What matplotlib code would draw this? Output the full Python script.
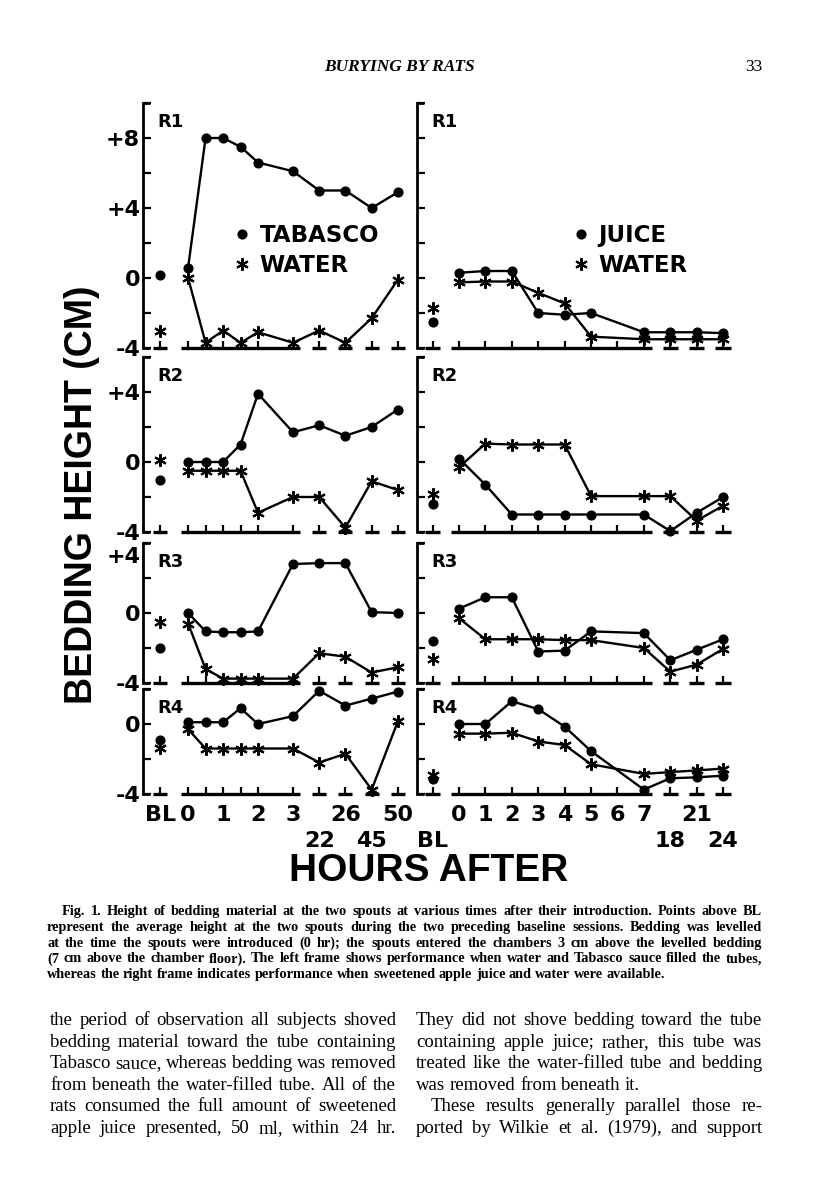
import numpy as np
import matplotlib
matplotlib.use("Agg")
import matplotlib.pyplot as plt
import matplotlib.transforms as mtransforms
from matplotlib.lines import Line2D

W, H = 816, 1200

# x categories (hours after introduction); BL = baseline sessions
left_hours = ["BL", "0", "0.5", "1", "1.5", "2", "3", "22", "26", "45", "50"]
left_pos = [-0.8, 0, 0.5, 1, 1.5, 2, 3, 3.75, 4.5, 5.25, 6.0]
left_ticklabels = ["BL", "0", "", "1", "", "2", "3", "22", "26", "45", "50"]
left_rows = [1, 1, 1, 1, 1, 1, 1, 2, 1, 2, 1]
left_groups = [[0], [1, 2, 3, 4, 5, 6], [7], [8], [9], [10]]

right_hours = ["BL", "0", "1", "2", "3", "4", "5", "6", "7", "18", "21", "24"]
right_pos = [-1, 0, 1, 2, 3, 4, 5, 6, 7, 8, 9, 10]
right_ticklabels = ["BL", "0", "1", "2", "3", "4", "5", "6", "7", "18", "21", "24"]
right_rows = [2, 1, 1, 1, 1, 1, 1, 1, 1, 2, 1, 2]
right_groups = [[0], [1, 2, 3, 4, 5, 6, 7, 8], [9], [10], [11]]

nan = np.nan
# bedding height (cm), first value = BL
tabasco_r1 = [0.2, 0.6, 8.0, 8.0, 7.5, 6.6, 6.1, 5.0, 5.0, 4.0, 4.9]
water_l_r1 = [-3.0, 0.0, -3.7, -3.0, -3.7, -3.1, -3.7, -3.0, -3.7, -2.3, -0.1]
tabasco_r2 = [-1.0, 0.0, 0.0, 0.0, 1.0, 3.9, 1.7, 2.1, 1.5, 2.0, 3.0]
water_l_r2 = [0.1, -0.5, -0.5, -0.5, -0.5, -2.9, -2.0, -2.0, -3.75, -1.1, -1.6]
tabasco_r3 = [-2.0, 0.0, -1.05, -1.1, -1.1, -1.05, 2.8, 2.85, 2.85, 0.05, 0.0]
water_l_r3 = [-0.5, -0.6, -3.2, -3.75, -3.75, -3.75, -3.75, -2.3, -2.5, -3.4, -3.1]
tabasco_r4 = [-0.9, 0.1, 0.1, 0.1, 0.9, 0.0, 0.45, 1.9, 1.05, 1.45, 1.85]
water_l_r4 = [-1.35, -0.3, -1.4, -1.4, -1.4, -1.4, -1.4, -2.2, -1.7, -3.75, 0.15]

juice_r1 = [-2.5, 0.3, 0.4, 0.4, -2.0, -2.1, -2.0, nan, -3.1, -3.1, -3.1, -3.15]
water_r_r1 = [-1.7, -0.25, -0.2, -0.2, -0.85, -1.45, -3.35, nan, -3.5, -3.5, -3.5, -3.5]
juice_r2 = [-2.4, 0.2, -1.3, -3.0, -3.0, -3.0, -3.0, nan, -3.0, -3.95, -2.9, -2.0]
water_r_r2 = [-1.85, -0.3, 1.05, 1.0, 1.0, 1.0, -1.95, nan, -1.95, -1.95, -3.35, -2.5]
juice_r3 = [-1.6, 0.25, 0.9, 0.9, -2.2, -2.15, -1.05, nan, -1.15, -2.7, -2.1, -1.5]
water_r_r3 = [-2.6, -0.3, -1.5, -1.5, -1.5, -1.55, -1.55, nan, -2.0, -3.35, -2.95, -2.05]
juice_r4 = [-3.15, 0.0, 0.0, 1.3, 0.85, -0.15, -1.55, nan, -3.75, -3.1, -3.05, -2.95]
water_r_r4 = [-2.9, -0.55, -0.55, -0.5, -1.0, -1.2, -2.3, nan, -2.85, -2.75, -2.65, -2.55]

rats = ["R1", "R2", "R3", "R4"]
ytops = [10, 6, 4, 2]
ylabels = [{8: "+8", 4: "+4", 0: "0", -4: "-4"},
           {4: "+4", 0: "0", -4: "-4"},
           {4: "+4", 0: "0", -4: "-4"},
           {0: "0", -4: "-4"}]
left_series = [(tabasco_r1, water_l_r1), (tabasco_r2, water_l_r2),
               (tabasco_r3, water_l_r3), (tabasco_r4, water_l_r4)]
right_series = [(juice_r1, water_r_r1), (juice_r2, water_r_r2),
                (juice_r3, water_r_r3), (juice_r4, water_r_r4)]

plt.rcParams["font.family"] = ["DejaVu Sans"]
plt.rcParams["font.weight"] = "bold"

DOT = dict(marker="o", ms=6.3, mfc="k", mec="k", color="k")
STAR = dict(marker=(6, 2, 0), ms=9, mew=1.5, color="k")
TICK_FS = 16

fig = plt.figure(figsize=(W / 100, H / 100), dpi=100)

rows_px = [(103, 348), (357, 532), (543, 683), (689, 794)]
left_px = (143, 408)
right_px = (417, 735)


def panel(xpx, ypx, pos, ticklabels, trows, groups, xlim, half, ytop, series, ylab, rat, bottom):
    x0, x1 = xpx
    y0, y1 = ypx
    ax = fig.add_axes([x0 / W, 1 - y1 / H, (x1 - x0) / W, (y1 - y0) / H])
    ax.set_xlim(*xlim)
    ax.set_ylim(-4, ytop)
    for s in ax.spines.values():
        s.set_visible(False)
    ax.patch.set_visible(False)
    sx = 7 / (x1 - x0)
    ax.plot([sx, 0, 0, sx], [1, 1, 0, 0], transform=ax.transAxes, color="k",
            lw=2.0, clip_on=False, solid_joinstyle="miter", solid_capstyle="butt")
    # broken baseline
    for g in groups:
        ax.plot([pos[g[0]] - half, pos[g[-1]] + half], [-4, -4], color="k", lw=2.4,
                solid_capstyle="butt", clip_on=False)
    pos_a = np.array(pos, dtype=float)
    for vals, kw in zip(series, (DOT, STAR)):
        v = np.array(vals, dtype=float)
        ax.plot(pos_a[:1], v[:1], ls="none", clip_on=False, **kw)
        m = ~np.isnan(v[1:])
        ax.plot(pos_a[1:][m], v[1:][m], ls="-", lw=1.7, clip_on=False, **kw)

    row1 = [l if r == 1 else "" for l, r in zip(ticklabels, trows)]
    pos2 = [p for p, r in zip(pos, trows) if r == 2]
    lab2 = [l for l, r in zip(ticklabels, trows) if r == 2]
    ax.set_xticks(pos, row1)
    ax.set_xticks(pos2, lab2, minor=True)
    ax.xaxis.remove_overlapping_locs = False
    ax.tick_params(axis="x", which="major", direction="in", length=5, width=1.6, pad=8,
                   labelsize=TICK_FS)
    ax.tick_params(axis="x", which="minor", length=0, pad=26.5, labelsize=TICK_FS)
    ax.tick_params(axis="x", which="both", labelbottom=bottom)

    yt = list(range(-4, ytop + 1, 2))
    if ylab is not None:
        ax.set_yticks(yt, [ylab.get(t, "") for t in yt])
    else:
        ax.set_yticks(yt, [""] * len(yt))
    ax.tick_params(axis="y", direction="in", length=6, width=1.6, pad=2,
                   labelsize=TICK_FS, labelleft=ylab is not None)
    if ylab is not None and ytop in ylab:
        # label sitting at the very top of the frame is dropped just below it
        top = ax.get_yticklabels()[-1]
        top.set_verticalalignment("top")
        top.set_transform(top.get_transform() +
                          mtransforms.ScaledTranslation(0, -4 / 100, fig.dpi_scale_trans))
    ax.annotate(rat, xy=(0, 1), xycoords="axes fraction", xytext=(10, -14),
                textcoords="offset points", va="center", ha="left", fontsize=13,
                fontweight="bold")
    return ax


axes_l, axes_r = [], []
for i in range(4):
    bottom = i == 3
    axes_l.append(panel(left_px, rows_px[i], left_pos, left_ticklabels, left_rows,
                        left_groups, (-1.29, 6.29), 0.2, ytops[i], left_series[i],
                        ylabels[i], rats[i], bottom))
    axes_r.append(panel(right_px, rows_px[i], right_pos, right_ticklabels, right_rows,
                        right_groups, (-1.59, 10.45), 0.29, ytops[i], right_series[i],
                        None, rats[i], bottom))

h_dot = Line2D([], [], ls="none", **DOT)
h_star = Line2D([], [], ls="none", **STAR)
leg_kw = dict(loc="upper left", frameon=False, handlelength=0.85, handletextpad=0.35,
              labelspacing=0.3, borderpad=0, borderaxespad=0,
              prop=dict(family="DejaVu Sans", weight="bold", size=16.5))
axes_l[0].legend([h_dot, h_star], ["TABASCO", "WATER"], bbox_to_anchor=(0.336, 0.505), **leg_kw)
axes_r[0].legend([h_dot, h_star], ["JUICE", "WATER"], bbox_to_anchor=(0.484, 0.505), **leg_kw)

fig.text(82 / W, 1 - 495 / H, "BEDDING HEIGHT (CM)", rotation=90, ha="center", va="center",
         family="Liberation Sans", fontweight="bold", fontsize=27)
fig.text(429 / W, 1 - 871 / H, "HOURS AFTER", ha="center", va="center",
         family="Liberation Sans", fontweight="bold", fontsize=28)

# running head
fig.text(399 / W, 1 - 67 / H, "BURYING BY RATS", ha="center", va="center",
         family="Liberation Serif", style="italic", fontweight="bold", fontsize=12.5)
fig.text(762 / W, 1 - 67 / H, "33", ha="right", va="center",
         family="Liberation Serif", fontweight="normal", fontsize=12.5)

caption = [
    "Fig. 1. Height of bedding material at the two spouts at various times after their introduction. Points above BL",
    "represent the average height at the two spouts during the two preceding baseline sessions. Bedding was levelled",
    "at the time the spouts were introduced (0 hr); the spouts entered the chambers 3 cm above the levelled bedding",
    "(7 cm above the chamber floor). The left frame shows performance when water and Tabasco sauce filled the tubes,",
    "whereas the right frame indicates performance when sweetened apple juice and water were available.",
]
body_left = [
    "the period of observation all subjects shoved",
    "bedding material toward the tube containing",
    "Tabasco sauce, whereas bedding was removed",
    "from beneath the water-filled tube. All of the",
    "rats consumed the full amount of sweetened",
    "apple juice presented, 50 ml, within 24 hr.",
]
body_right = [
    "They did not shove bedding toward the tube",
    "containing apple juice; rather, this tube was",
    "treated like the water-filled tube and bedding",
    "was removed from beneath it.",
    "These results generally parallel those re-",
    "ported by Wilkie et al. (1979), and support",
]

renderer = fig.canvas.get_renderer()


def block(lines, x0, x1, ybase, dy, size, weight, indents, ragged):
    for k, line in enumerate(lines):
        words = line.split()
        xs = x0 + indents.get(k, 0)
        texts = [fig.text(0, 0, w, family="Liberation Serif", fontweight=weight,
                          fontsize=size, va="baseline", ha="left") for w in words]
        widths = [t.get_window_extent(renderer).width for t in texts]
        if k in ragged or len(words) == 1:
            gap = 0.25 * size * 100 / 72
        else:
            gap = (x1 - xs - sum(widths)) / (len(words) - 1)
        x = xs
        y = ybase + k * dy
        for t, w in zip(texts, widths):
            t.set_position((x / W, 1 - y / H))
            x += w + gap


block(caption, 47, 762, 915, 15.8, 10.3, "bold", {0: 15}, {4})
block(body_left, 50, 396, 1025, 21.6, 13.5, "normal", {}, set())
block(body_right, 416, 762, 1025, 21.6, 13.5, "normal", {4: 15}, {3})

fig.savefig("out.png", dpi=100)
